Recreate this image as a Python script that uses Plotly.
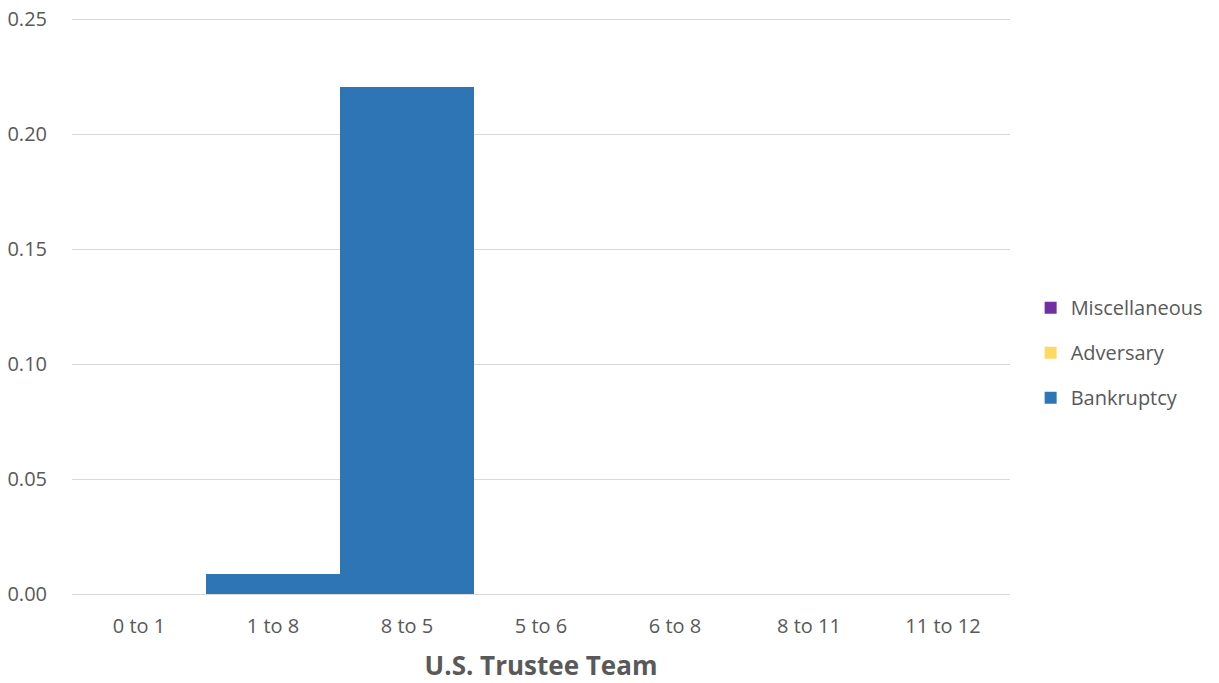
import plotly.graph_objects as go

categories = ["0 to 1", "1 to 8", "8 to 5", "5 to 6", "6 to 8", "8 to 11", "11 to 12"]
bankruptcy = [0, 0.0088, 0.2205, 0, 0, 0, 0]
adversary = [0, 0, 0, 0, 0, 0, 0]
miscellaneous = [0, 0, 0, 0, 0, 0, 0]
y_ticks = [0, 0.05, 0.10, 0.15, 0.20, 0.25]

FONT = "Open Sans, Liberation Sans, sans-serif"

fig = go.Figure()
fig.add_trace(go.Bar(x=categories, y=bankruptcy, name="Bankruptcy", marker_color="#2E75B6",
                     marker_line_width=0, legendrank=3, legendgroup="bank"))
fig.add_trace(go.Bar(x=categories, y=adversary, name="Adversary", marker_color="#FFD966",
                     marker_line_width=0, legendrank=2, legendgroup="adv"))
fig.add_trace(go.Bar(x=categories, y=miscellaneous, name="Miscellaneous", marker_color="#7030A0",
                     marker_line_width=0, legendrank=1, legendgroup="misc"))

fig.update_layout(
    barmode="stack",
    bargap=0,
    width=1219, height=683,
    paper_bgcolor="white", plot_bgcolor="white",
    margin=dict(l=72, r=209, t=18, b=89, autoexpand=False),
    font=dict(family=FONT, size=20, color="#595959"),
    legend=dict(x=1.022, y=0.419, yanchor="middle", traceorder="grouped",
                font=dict(size=20, color="#595959", family=FONT), itemsizing="constant",
                tracegroupgap=16, itemwidth=30),
    xaxis=dict(title=dict(text="<b>U.S. Trustee Team</b>", font=dict(size=26, color="#595959"), standoff=20),
               showline=True, linecolor="#D9D9D9", linewidth=1, ticks="", automargin=False,
               ticklabelstandoff=14, tickfont=dict(size=20)),
    yaxis=dict(range=[0, 0.2506], tickvals=y_ticks, tickformat=".2f", showgrid=True,
               gridcolor="#D9D9D9", zeroline=False, ticks="", ticklabelstandoff=24,
               ticklabeloverflow="allow", automargin=False, tickfont=dict(size=20)),
    showlegend=True,
)
fig.write_html("out.html", config={"displayModeBar": False},
               post_script="document.body.style.margin='0';")
